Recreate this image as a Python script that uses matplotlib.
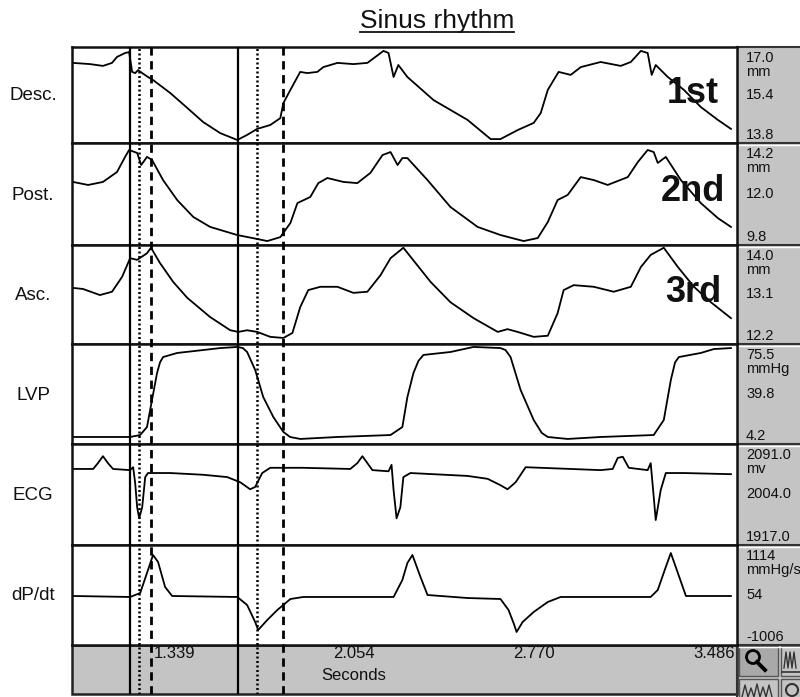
import matplotlib.pyplot as plt
from matplotlib.patches import Rectangle, Circle

# traces (time in s, value in channel units)
desc_t = [0.937, 1.005, 1.056, 1.092, 1.112, 1.144, 1.160, 1.172, 1.184, 1.196, 1.212, 1.235, 1.255, 1.323, 1.391,
          1.454, 1.522, 1.590, 1.629, 1.669, 1.721, 1.761, 1.773, 1.801, 1.840, 1.868, 1.908, 1.932, 1.988, 2.051,
          2.107, 2.171, 2.191, 2.211, 2.230, 2.266, 2.370, 2.505, 2.597, 2.636, 2.704, 2.768, 2.796, 2.824, 2.867,
          2.915, 2.955, 3.034, 3.114, 3.154, 3.194, 3.221, 3.237, 3.253, 3.301, 3.365, 3.432, 3.500, 3.552]
desc_v = [16.47, 16.43, 16.37, 16.47, 16.67, 16.80, 16.83, 16.17, 16.13, 16.23, 16.13, 16.00, 15.90, 15.47, 14.97,
          14.50, 14.13, 13.90, 14.07, 14.27, 14.40, 14.63, 15.13, 15.57, 16.17, 16.13, 16.17, 16.33, 16.47, 16.43,
          16.47, 16.87, 16.80, 16.00, 16.40, 16.00, 15.23, 14.57, 13.93, 13.93, 14.23, 14.47, 14.80, 15.57, 16.17,
          16.07, 16.33, 16.50, 16.37, 16.50, 16.87, 16.80, 16.07, 16.40, 16.00, 15.57, 15.00, 14.57, 14.27]

post_t = [0.937, 0.997, 1.056, 1.112, 1.144, 1.160, 1.192, 1.208, 1.231, 1.251, 1.295, 1.351, 1.415, 1.482, 1.590,
          1.669, 1.709, 1.761, 1.801, 1.829, 1.880, 1.912, 1.948, 2.012, 2.067, 2.119, 2.167, 2.199, 2.227, 2.246,
          2.266, 2.346, 2.437, 2.545, 2.636, 2.728, 2.784, 2.824, 2.863, 2.903, 2.955, 3.007, 3.062, 3.142, 3.182,
          3.221, 3.245, 3.261, 3.293, 3.353, 3.432, 3.500, 3.552]
post_v = [12.52, 12.39, 12.52, 12.95, 13.60, 13.90, 13.77, 13.25, 13.60, 13.47, 12.60, 11.74, 11.01, 10.58, 10.23,
          10.06, 9.97, 10.14, 10.75, 11.61, 11.87, 12.47, 12.69, 12.52, 12.47, 12.91, 13.68, 13.81, 13.25, 13.55,
          13.55, 12.60, 11.44, 10.58, 10.23, 9.97, 10.10, 10.79, 11.74, 11.96, 12.73, 12.60, 12.39, 12.73, 13.38,
          13.90, 13.81, 13.34, 13.60, 12.60, 11.61, 10.96, 10.58]

asc_t = [0.937, 0.977, 1.044, 1.092, 1.132, 1.164, 1.192, 1.231, 1.247, 1.283, 1.335, 1.391, 1.482, 1.562, 1.594,
         1.629, 1.669, 1.721, 1.773, 1.809, 1.840, 1.872, 1.920, 1.988, 2.051, 2.107, 2.159, 2.199, 2.250, 2.358,
         2.437, 2.529, 2.625, 2.664, 2.704, 2.768, 2.824, 2.863, 2.887, 2.927, 3.007, 3.086, 3.154, 3.194, 3.233,
         3.285, 3.341, 3.405, 3.472, 3.552]
asc_v = [13.22, 13.20, 13.09, 13.15, 13.42, 13.76, 13.73, 13.85, 13.95, 13.67, 13.33, 13.04, 12.69, 12.45, 12.42,
         12.45, 12.42, 12.33, 12.31, 12.40, 12.87, 13.18, 13.24, 13.24, 13.13, 13.15, 13.45, 13.76, 13.95, 13.33,
         12.96, 12.67, 12.42, 12.47, 12.42, 12.33, 12.35, 12.76, 13.18, 13.27, 13.24, 13.15, 13.24, 13.60, 13.82,
         13.95, 13.60, 13.24, 12.96, 12.67]

lvp_t = [0.937, 1.164, 1.204, 1.231, 1.251, 1.271, 1.283, 1.295, 1.351, 1.454, 1.522, 1.590, 1.612, 1.629, 1.661,
         1.693, 1.733, 1.773, 1.800, 1.840, 1.988, 2.199, 2.246, 2.266, 2.290, 2.310, 2.330, 2.437, 2.529, 2.636,
         2.656, 2.676, 2.716, 2.768, 2.800, 2.824, 2.903, 3.034, 3.245, 3.285, 3.313, 3.330, 3.345, 3.432, 3.484,
         3.552]
lvp_v = [9.2, 9.2, 10.6, 16.3, 35.6, 54.8, 62.5, 66.2, 69.1, 71.2, 72.6, 73.4, 72.6, 69.8, 57.0,
         37.7, 23.5, 12.8, 9.2, 7.8, 9.2, 10.6, 16.3, 37.7, 54.8, 63.5, 67.7, 69.8, 73.4, 72.6,
         71.2, 66.2, 42.7, 21.3, 12.1, 9.2, 7.8, 9.2, 10.6, 21.3, 49.8, 62.5, 66.2, 69.1, 71.9,
         72.6]

ecg_t = [0.937, 1.017, 1.036, 1.056, 1.076, 1.096, 1.164, 1.176, 1.184, 1.192, 1.200, 1.212, 1.224, 1.235, 1.323,
         1.454, 1.550, 1.602, 1.641, 1.661, 1.689, 1.721, 1.852, 2.039, 2.067, 2.087, 2.107, 2.127, 2.191, 2.203,
         2.211, 2.223, 2.238, 2.250, 2.278, 2.505, 2.585, 2.636, 2.664, 2.696, 2.736, 2.796, 3.034, 3.082, 3.102,
         3.122, 3.146, 3.221, 3.233, 3.245, 3.253, 3.273, 3.293, 3.365, 3.552]
ecg_v = [2048, 2048, 2058, 2070, 2058, 2048, 2046, 2051, 2024, 1982, 1963, 1982, 2034, 2041, 2041,
         2038, 2034, 2025, 2013, 2017, 2041, 2050, 2050, 2048, 2058, 2070, 2058, 2046, 2044, 2055,
         2012, 1963, 1982, 2034, 2041, 2036, 2031, 2020, 2013, 2025, 2051, 2050, 2046, 2048, 2067,
         2069, 2050, 2046, 2058, 2000, 1960, 2012, 2041, 2041, 2039]

dpdt_t = [0.937, 1.164, 1.204, 1.231, 1.255, 1.275, 1.303, 1.331, 1.590, 1.629, 1.661, 1.673, 1.709, 1.749, 1.801,
          1.852, 2.211, 2.246, 2.266, 2.286, 2.318, 2.346, 2.505, 2.636, 2.668, 2.688, 2.700, 2.724, 2.768, 2.824,
          2.875, 3.233, 3.261, 3.293, 3.313, 3.341, 3.373, 3.552]
dpdt_v = [33, 12, 96, 520, 902, 754, 224, 33, 12, -158, -518, -688, -476, -264, -31,
          12, 12, 372, 732, 902, 436, 54, -10, -31, -264, -540, -730, -518, -306, -94,
          12, 12, 160, 648, 944, 520, 33, 33]

row_names = ["Desc.", "Post.", "Asc.", "LVP", "ECG", "dP/dt"]
row_top = ["17.0", "14.2", "14.0", "75.5", "2091.0", "1114"]
row_mid = ["15.4", "12.0", "13.1", "39.8", "2004.0", "54"]
row_bot = ["13.8", "9.8", "12.2", "4.2", "1917.0", "-1006"]
row_unit = ["mm", "mm", "mm", "mmHg", "mv", "mmHg/s"]
beat_labels = ["1st", "2nd", "3rd"]

tick_times = [1.339, 2.054, 2.770, 3.486]
solid_marks = [1.164, 1.594]
dotted_marks = [1.200, 1.669]
dashed_marks = [1.247, 1.773]
XLIM = (0.933, 3.576)

traces = [(desc_t, desc_v), (post_t, post_v), (asc_t, asc_v),
          (lvp_t, lvp_v), (ecg_t, ecg_v), (dpdt_t, dpdt_v)]

# layout in pixels of the 800x697 image
W, H = 800, 697
PL, PR = 72, 737
ROW_Y = [47, 143, 245, 344, 444, 545, 645]
STRIP_BOT = 694
GRAY = "#c4c4c4"
INK = "#111111"


def frac(x0, y0, x1, y1):
    return [x0 / W, 1 - y1 / H, (x1 - x0) / W, (y1 - y0) / H]


plt.rcParams["font.family"] = ["Liberation Sans", "DejaVu Sans"]
fig = plt.figure(figsize=(W / 100, H / 100), dpi=100)

bg = fig.add_axes([0, 0, 1, 1], zorder=0)
bg.set_xlim(0, W)
bg.set_ylim(H, 0)
bg.axis("off")

# right value panel and bottom time strip
bg.add_patch(Rectangle((PR, ROW_Y[0]), W - PR, H - ROW_Y[0], fc=GRAY, ec="none"))
bg.add_patch(Rectangle((PL, ROW_Y[-1]), PR - PL, STRIP_BOT - ROW_Y[-1], fc=GRAY, ec="#222222", lw=1.8))
bg.plot([PR, PR], [ROW_Y[0], H], color="#333333", lw=1.5)
bg.plot([PR, W], [ROW_Y[0], ROW_Y[0]], color="#333333", lw=1.5)
for y in ROW_Y[1:]:
    bg.plot([PR, W], [y, y], color="#333333", lw=1.5)
    bg.plot([PR + 2, W], [y + 2, y + 2], color="white", lw=1)

# buttons in the lower right corner
bg.add_patch(Rectangle((739, 646), 39, 30, fc="#a9a9a9", ec="#555555", lw=1))
bg.add_patch(Circle((753, 657), 6.5, fill=False, ec="black", lw=2))
bg.plot([757, 765], [662, 670], color="black", lw=2.8)
bg.add_patch(Rectangle((781, 646), 20, 30, fc=GRAY, ec="#555555", lw=1))
bg.plot([784, 786, 788, 790, 792, 794, 796], [668, 652, 668, 652, 668, 652, 668], color="#333333", lw=1)
bg.plot([782, 800], [672, 672], color="#333333", lw=1.2)
bg.add_patch(Rectangle((739, 679), 39, 20, fc=GRAY, ec="#555555", lw=1))
bg.add_patch(Rectangle((781, 679), 20, 20, fc=GRAY, ec="#555555", lw=1))
bg.plot([742, 745, 748, 751, 754, 757, 760, 763, 766, 769, 772], [697, 685, 697, 688, 697, 684, 697, 687, 697, 685, 697],
        color="#333333", lw=1)
bg.add_patch(Circle((792, 690), 6, fill=False, ec="#333333", lw=1.5))

fg = fig.add_axes([0, 0, 1, 1], zorder=5)
fg.set_xlim(0, W)
fg.set_ylim(H, 0)
fg.axis("off")
fg.patch.set_alpha(0)

for i, (t, v) in enumerate(traces):
    y0, y1 = ROW_Y[i], ROW_Y[i + 1]
    ax = fig.add_axes(frac(PL, y0, PR, y1), zorder=1)
    ax.plot(t, v, color="black", lw=1.3, solid_joinstyle="round")
    ax.set_xlim(*XLIM)
    ax.set_ylim(float(row_bot[i]), float(row_top[i]))
    ax.set_xticks([])
    ax.set_yticks([])
    for sp in ax.spines.values():
        sp.set_linewidth(1.8)
        sp.set_color(INK)
    if i < len(beat_labels):
        ax.text(0.934, 0.52, beat_labels[i], transform=ax.transAxes, ha="center", va="center",
                fontsize=26, fontweight="bold", color=INK, zorder=6)

    fg.text(33, (y0 + y1) / 2 + 1, row_names[i], ha="center", va="center", fontsize=13.5, color=INK)
    fg.text(746, y0 + 11, row_top[i], ha="left", va="center", fontsize=10.5, color=INK)
    fg.text(746, y0 + 25, row_unit[i], ha="left", va="center", fontsize=10.5, color=INK)
    fg.text(746, (y0 + y1) / 2, row_mid[i], ha="left", va="center", fontsize=10.5, color=INK)
    fg.text(746, y1 - 8, row_bot[i], ha="left", va="center", fontsize=10.5, color=INK)

# event markers spanning all channels and the time strip
vl = fig.add_axes(frac(PL, ROW_Y[0], PR, STRIP_BOT), zorder=3)
vl.set_xlim(*XLIM)
vl.set_ylim(0, 1)
vl.axis("off")
vl.patch.set_alpha(0)
for t in solid_marks:
    vl.axvline(t, color="black", lw=1.6)
for t in dotted_marks:
    vl.axvline(t, color="black", lw=1.8, linestyle=(0, (0.8, 1.0)))
for t in dashed_marks:
    vl.axvline(t, color="black", lw=2.0, linestyle=(0, (3, 2)))

span = STRIP_BOT - ROW_Y[0]
for t in tick_times:
    vl.text(t, (STRIP_BOT - 654) / span, f"{t:.3f}", ha="center", va="center", fontsize=12, color=INK)
vl.text(tick_times[1], (STRIP_BOT - 675) / span, "Seconds", ha="center", va="center", fontsize=12, color=INK)

title = fg.text(437, 21, "Sinus rhythm", ha="center", va="center", fontsize=19, color=INK)
fig.canvas.draw()
bb = title.get_window_extent().transformed(fg.transData.inverted())
fg.plot([bb.x0, bb.x1], [32, 32], color=INK, lw=1.3)

fig.savefig("out.png", dpi=100)
plt.close(fig)
